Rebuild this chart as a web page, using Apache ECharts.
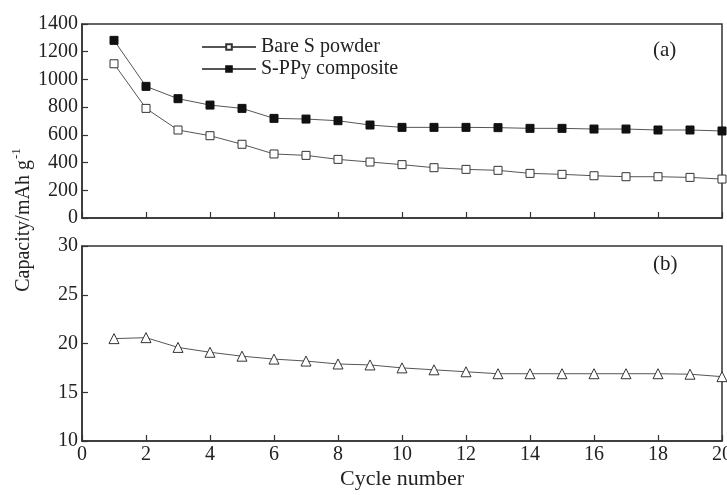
<!DOCTYPE html>
<html>
<head>
<meta charset="utf-8">
<script src="https://cdn.jsdelivr.net/npm/echarts@6/dist/echarts.min.js"></script>
<style>
  html, body { margin: 0; padding: 0; background: #fff; }
  #main { width: 727px; height: 495px; }
</style>
</head>
<body>
<div id="main"></div>
<script>
// cycle numbers
var cycles = [1,2,3,4,5,6,7,8,9,10,11,12,13,14,15,16,17,18,19,20];
// (a) capacity, mAh/g
var bareS = [1113,791,635,594,532,462,452,423,404,385,363,351,344,322,315,305,298,298,293,281];
var sppy  = [1282,950,861,815,791,719,714,702,671,654,654,654,652,647,647,642,642,635,635,628];
// (b) capacity
var panelB = [20.5,20.6,19.6,19.1,18.7,18.4,18.2,17.9,17.8,17.5,17.3,17.1,16.9,16.9,16.9,16.9,16.9,16.9,16.85,16.6];

var xTicks = [0,2,4,6,8,10,12,14,16,18,20];
var yTicksA = [0,200,400,600,800,1000,1200,1400];
var yTicksB = [10,15,20,25,30];

function pairs(ys) {
  var out = [];
  for (var i = 0; i < cycles.length; i++) out.push([cycles[i], ys[i]]);
  return out;
}

var font = 'Liberation Serif';
var txt = '#222';
var axisCol = '#333';

var chart = echarts.init(document.getElementById('main'));

function xAxis(idx, showLabel) {
  return {
    gridIndex: idx, type: 'value', min: xTicks[0], max: xTicks[xTicks.length - 1], interval: 2,
    axisLine: { show: true, onZero: false, lineStyle: { color: axisCol, width: 1.5 } },
    axisTick: { show: true, inside: true, length: 6, lineStyle: { color: axisCol, width: 1.2 } },
    axisLabel: { show: showLabel, fontFamily: font, fontSize: 20, color: txt, margin: 4,
      formatter: function (v) { return String(v); } },
    splitLine: { show: false }
  };
}
function yAxis(idx, ticks, interval) {
  return {
    gridIndex: idx, type: 'value', min: ticks[0], max: ticks[ticks.length - 1], interval: interval,
    axisLine: { show: true, lineStyle: { color: axisCol, width: 1.5 } },
    axisTick: { show: true, inside: true, length: 6, lineStyle: { color: axisCol, width: 1.2 } },
    axisLabel: { fontFamily: font, fontSize: 20, color: txt, margin: 4,
      formatter: function (v) { return String(v); } },
    splitLine: { show: false }
  };
}

var lineStyle = { color: '#555', width: 1 };

var option = {
  animation: false,
  backgroundColor: '#fff',
  grid: [
    { left: 82, right: 5, top: 24, height: 194, show: true, borderColor: axisCol, borderWidth: 1.5, outerBoundsMode: 'none' },
    { left: 82, right: 5, top: 246, height: 195, show: true, borderColor: axisCol, borderWidth: 1.5, outerBoundsMode: 'none' }
  ],
  xAxis: [xAxis(0, false), xAxis(1, true)],
  yAxis: [yAxis(0, yTicksA, 200), yAxis(1, yTicksB, 5)],
  legend: {
    left: 196, top: 32, orient: 'vertical', itemGap: 2,
    itemWidth: 54, itemHeight: 7,
    textStyle: { fontFamily: font, fontSize: 20, color: txt },
    data: ['Bare S powder', 'S-PPy composite']
  },
  graphic: [
    { type: 'text', left: 653, top: 40, style: { text: '(a)', font: '21px "Liberation Serif"', fill: txt } },
    { type: 'text', left: 653, top: 254, style: { text: '(b)', font: '21px "Liberation Serif"', fill: txt } },
    {
      type: 'text', x: 24, y: 220, rotation: Math.PI / 2,
      style: {
        text: 'Capacity/mAh g{sup|-1}', align: 'center', verticalAlign: 'middle',
        font: '20px "Liberation Serif"', fill: txt,
        rich: { sup: { fontSize: 13, fontFamily: font, fill: txt, verticalAlign: 'top', lineHeight: 28, padding: [0, 0, 12, 1] } }
      }
    },
    { type: 'text', x: 402, y: 479, style: { text: 'Cycle number', font: '22px "Liberation Serif"', fill: txt, align: 'center', verticalAlign: 'middle' } }
  ],
  series: [
    {
      name: 'Bare S powder', type: 'line', xAxisIndex: 0, yAxisIndex: 0,
      data: pairs(bareS), symbol: 'rect', symbolSize: 8,
      itemStyle: { color: '#fff', borderColor: '#333', borderWidth: 1 },
      lineStyle: lineStyle
    },
    {
      name: 'S-PPy composite', type: 'line', xAxisIndex: 0, yAxisIndex: 0,
      data: pairs(sppy), symbol: 'rect', symbolSize: 8,
      itemStyle: { color: '#111', borderColor: '#111', borderWidth: 1 },
      lineStyle: lineStyle
    },
    {
      name: 'b', type: 'line', xAxisIndex: 1, yAxisIndex: 1,
      data: pairs(panelB), symbol: 'triangle', symbolSize: 10,
      itemStyle: { color: '#fff', borderColor: '#333', borderWidth: 1 },
      lineStyle: lineStyle
    }
  ]
};

chart.setOption(option);
</script>
</body>
</html>
